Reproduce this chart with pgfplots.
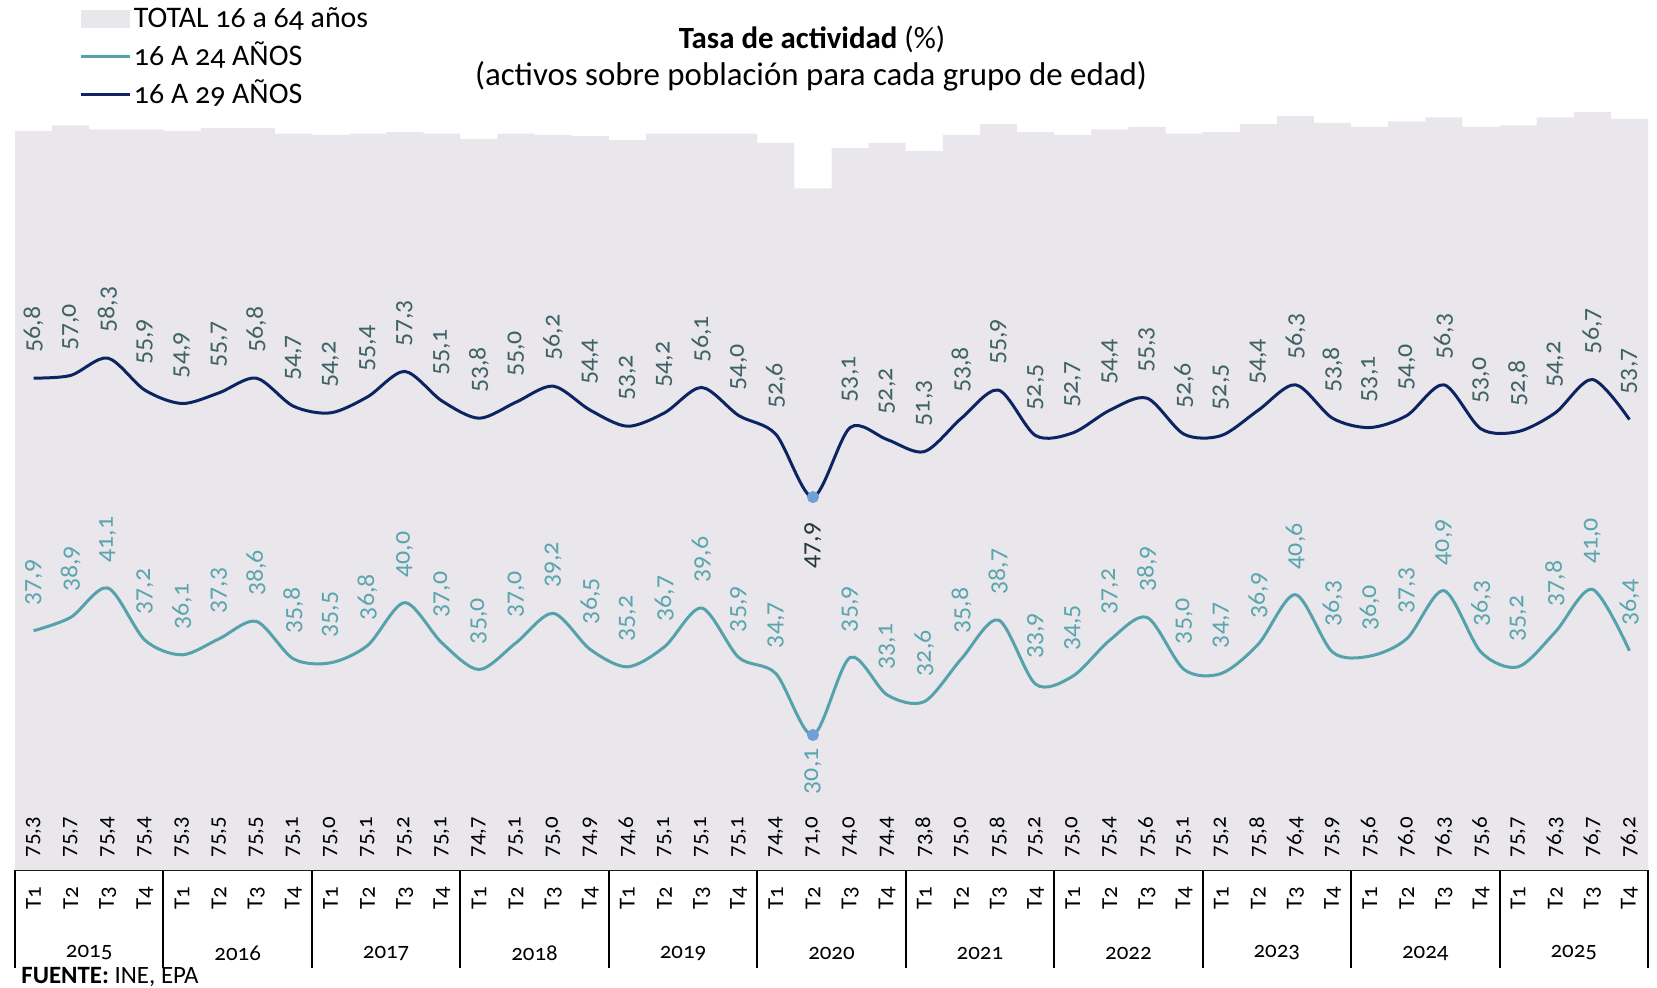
\documentclass[border=0pt]{standalone}
\usepackage{pgfplots}
\pgfplotsset{compat=1.18}
\usepackage{pgfplotstable}
\usepackage{fontspec}
\setmainfont{Carlito}[Numbers=OldStyle]
\definecolor{barc}{HTML}{E9E7EB}
\definecolor{navyc}{HTML}{0C2461}
\definecolor{tealc}{HTML}{55A2AC}
\definecolor{labB}{HTML}{3F6267}
\definecolor{labA}{HTML}{5AA5AE}
\definecolor{dotc}{HTML}{6FA0D8}
\definecolor{labX}{HTML}{25363B}

% TOTAL 16 a 64 anos
\pgfplotstableread{
x v
0 75.3
1 75.7
2 75.4
3 75.4
4 75.3
5 75.5
6 75.5
7 75.1
8 75.0
9 75.1
10 75.2
11 75.1
12 74.7
13 75.1
14 75.0
15 74.9
16 74.6
17 75.1
18 75.1
19 75.1
20 74.4
21 71.0
22 74.0
23 74.4
24 73.8
25 75.0
26 75.8
27 75.2
28 75.0
29 75.4
30 75.6
31 75.1
32 75.2
33 75.8
34 76.4
35 75.9
36 75.6
37 76.0
38 76.3
39 75.6
40 75.7
41 76.3
42 76.7
43 76.2
}\tabTotal

% 16 A 24 ANOS
\pgfplotstableread{
x v
0 37.9
1 38.9
2 41.1
3 37.2
4 36.1
5 37.3
6 38.6
7 35.8
8 35.5
9 36.8
10 40.0
11 37.0
12 35.0
13 37.0
14 39.2
15 36.5
16 35.2
17 36.7
18 39.6
19 35.9
20 34.7
21 30.1
22 35.9
23 33.1
24 32.6
25 35.8
26 38.7
27 33.9
28 34.5
29 37.2
30 38.9
31 35.0
32 34.7
33 36.9
34 40.6
35 36.3
36 36.0
37 37.3
38 40.9
39 36.3
40 35.2
41 37.8
42 41.0
43 36.4
}\tabA

% 16 A 29 ANOS
\pgfplotstableread{
x v
0 56.8
1 57.0
2 58.3
3 55.9
4 54.9
5 55.7
6 56.8
7 54.7
8 54.2
9 55.4
10 57.3
11 55.1
12 53.8
13 55.0
14 56.2
15 54.4
16 53.2
17 54.2
18 56.1
19 54.0
20 52.6
21 47.9
22 53.1
23 52.2
24 51.3
25 53.8
26 55.9
27 52.5
28 52.7
29 54.4
30 55.3
31 52.6
32 52.5
33 54.4
34 56.3
35 53.8
36 53.1
37 54.0
38 56.3
39 53.0
40 52.8
41 54.2
42 56.7
43 53.7
}\tabB

\newcommand{\numlab}{\pgfmathprintnumber[fixed,fixed zerofill,precision=1,use comma]{\pgfplotspointmeta}}

\begin{document}
\begin{tikzpicture}
\useasboundingbox (0,0) rectangle (828.5bp,-494bp);
\begin{axis}[
  at={(7.5bp,-435bp)}, anchor=south west,
  scale only axis, width=816.5bp, height=401bp,
  xmin=-0.5, xmax=43.5, ymin=20, ymax=80,
  axis y line=none, axis x line*=bottom,
  x axis line style={black, line width=1bp},
  xtick={0,...,43},
  xticklabels={T1,T2,T3,T4,T1,T2,T3,T4,T1,T2,T3,T4,T1,T2,T3,T4,T1,T2,T3,T4,T1,T2,T3,T4,T1,T2,T3,T4,T1,T2,T3,T4,T1,T2,T3,T4,T1,T2,T3,T4,T1,T2,T3,T4},
  major tick length=0pt,
  xticklabel style={font=\fontsize{11.5}{13}\selectfont, yshift=-8bp, rotate=90, anchor=east, inner sep=0pt},
  extra x ticks={-0.5,3.5,7.5,11.5,15.5,19.5,23.5,27.5,31.5,35.5,39.5,43.5},
  extra x tick labels={},
  extra x tick style={major tick length=49bp, tick align=outside, tick style={black, line width=1bp}},
  /pgf/number format/assume math mode=true,
  legend cell align=left,
  legend style={at={(axis description cs:0.0398,1.0765)}, anchor=north west,
    draw=none, fill=none, inner sep=0pt, outer sep=0pt,
    font=\fontsize{15}{17}\selectfont, row sep=5bp, column sep=1bp,
    nodes={inner sep=0pt, text height=10.5bp, text depth=3.5bp}},
]
\addplot[ybar, bar width=1, bar shift=0pt, fill=barc, draw=none,
  legend image code/.code={\fill[barc] (0bp,-3.5bp) rectangle (24.5bp,5.5bp);}]
  table[x=x,y=v]{\tabTotal};
\addlegendentry{TOTAL 16 a 64 años}
\addplot[tealc, line width=1.5bp, smooth, mark=none,
  legend image code/.code={\draw[tealc, line width=1.5bp] (0bp,1.3bp) -- (24.5bp,1.3bp);}]
  table[x=x,y=v]{\tabA};
\addlegendentry{16 A 24 AÑOS}
\addplot[navyc, line width=1.5bp, smooth, mark=none,
  legend image code/.code={\draw[navyc, line width=1.5bp] (0bp,1.3bp) -- (24.5bp,1.3bp);}]
  table[x=x,y=v]{\tabB};
\addlegendentry{16 A 29 AÑOS}

% data labels
\addplot[draw=none, mark=none, forget plot, point meta=explicit,
  x filter/.expression={x==21 ? nan : x},
  nodes near coords={\numlab},
  nodes near coords style={font=\fontsize{13}{15}\selectfont, text=labB, yshift=12.5bp, rotate=90, anchor=west, inner sep=0pt}]
  table[x=x,y=v,meta=v]{\tabB};
\addplot[draw=none, mark=none, forget plot, point meta=explicit,
  x filter/.expression={x==21 ? nan : x},
  nodes near coords={\numlab},
  nodes near coords style={font=\fontsize{13}{15}\selectfont, text=labA, yshift=12.5bp, rotate=90, anchor=west, inner sep=0pt}]
  table[x=x,y=v,meta=v]{\tabA};
\addplot[only marks, color=dotc, mark=*, mark size=2.8bp, mark options={fill=dotc, draw=dotc}, forget plot, point meta=explicit,
  restrict x to domain=21:21,
  nodes near coords={\numlab},
  nodes near coords style={font=\fontsize{13}{15}\selectfont, text=labX, yshift=-12.5bp, rotate=90, anchor=east, inner sep=0pt}]
  table[x=x,y=v,meta=v]{\tabB};
\addplot[only marks, color=dotc, mark=*, mark size=2.8bp, mark options={fill=dotc, draw=dotc}, forget plot, point meta=explicit,
  restrict x to domain=21:21,
  nodes near coords={\numlab},
  nodes near coords style={font=\fontsize{13}{15}\selectfont, text=labA, yshift=-6.5bp, rotate=90, anchor=east, inner sep=0pt}]
  table[x=x,y=v,meta=v]{\tabA};
\addplot[draw=none, mark=none, forget plot, point meta=explicit,
  nodes near coords={\numlab},
  nodes near coords style={font=\fontsize{11.5}{13}\selectfont, text=black, yshift=6bp, rotate=90, anchor=west, inner sep=0pt}]
  table[x=x, y expr=20, meta=v]{\tabTotal};
\end{axis}

% title
\node[font=\fontsize{15.5}{17}\selectfont] at (406bp,-19.5bp) {\textbf{Tasa de actividad} (\%)};
\node[font=\fontsize{16.5}{18}\selectfont] at (405.5bp,-38bp) {(activos sobre población para cada grupo de edad)};

% years
\foreach \k in {0,...,10} {
  \pgfmathsetmacro\xx{44.6+74.227*\k}
  \node[font=\fontsize{11.5}{13}\selectfont] at (\xx bp,-476.5bp) {\the\numexpr2015+\k\relax};
}
\node[anchor=west, font=\fontsize{12.5}{14}\selectfont, inner sep=0pt] at (10.5bp,-488.5bp) {\textbf{FUENTE:} INE, EPA};
\end{tikzpicture}
\end{document}
